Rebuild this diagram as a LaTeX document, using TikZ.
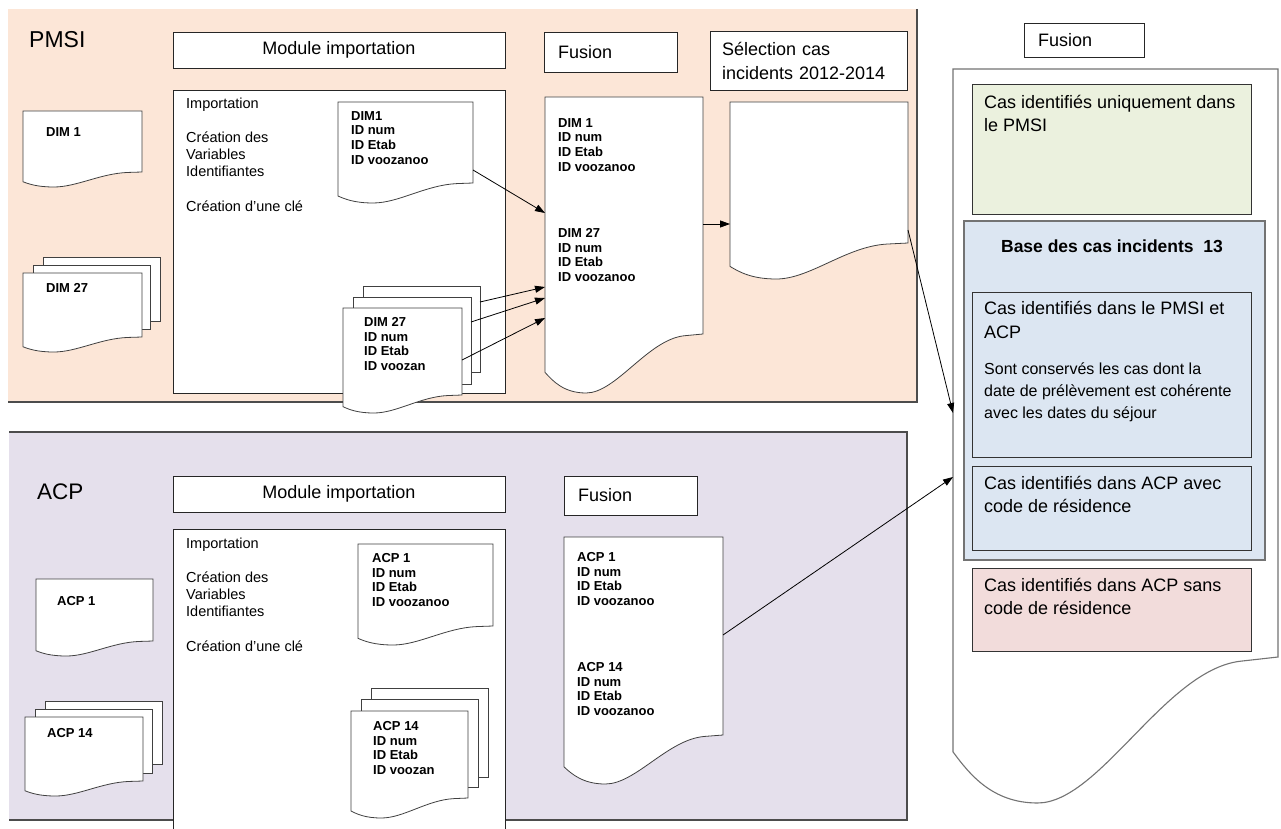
\documentclass[tikz,border=0pt]{standalone}
\usepackage{fontspec}
\setmainfont{Liberation Sans}
\usepackage{tikz}
\usetikzlibrary{positioning,calc,arrows.meta}

\definecolor{pmsibg}{RGB}{252,230,215}
\definecolor{acpbg}{RGB}{229,224,236}
\definecolor{vertcas}{RGB}{235,241,222}
\definecolor{bleucas}{RGB}{220,230,242}
\definecolor{rosecas}{RGB}{242,220,219}

% document a bord ondule : style, nom, gauche, haut, droite, bas, creux
\newcommand{\wavedoc}[7][docline]{%
  \pgfmathsetmacro{\docw}{#5-#3}
  \draw[#1] (#3,#4) -- (#5,#4) -- (#5,#6) -- ({#5-0.12*\docw},{#6+0.03*#7})
    .. controls ({#5-0.35*\docw},{#6+0.1*#7}) and ({#3+0.45*\docw},{#6+#7}) .. ({#3+0.26*\docw},{#6+#7})
    .. controls ({#3+0.12*\docw},{#6+#7}) and ({#3+0.05*\docw},{#6+0.8*#7}) .. (#3,{#6+0.65*#7}) -- cycle;
  \node[docarea, minimum width=\docw pt, minimum height={(#6-#4)*1pt}] (#2) at (#3,#4) {};
}
% feuille derriere un document
\newcommand{\sheetbox}[5]{%
  \node[sheet, minimum width={(#4-#2)*1pt}, minimum height={(#5-#3)*1pt}] (#1) at (#2,#3) {};
}

\begin{document}
\begin{tikzpicture}[x=1pt, y=-1pt, >={Triangle[length=10pt,width=7pt]},
  docline/.style={draw=black!75, fill=white, line width=0.8pt},
  bigline/.style={draw=black!55, fill=white, line width=1.1pt},
  docarea/.style={anchor=north west, inner sep=0pt, outer sep=0pt, draw=none},
  sheet/.style={anchor=north west, inner sep=0pt, outer sep=0pt, draw=black!75, fill=white, line width=0.8pt},
  boite/.style={anchor=north west, inner sep=0pt, outer sep=0pt, draw=black!85, fill=white, line width=0.8pt},
  lib/.style={font=\fontsize{18}{24}\selectfont},
  titre/.style={anchor=north west, inner sep=0pt, font=\fontsize{23}{26}\selectfont},
  doctxt/.style={anchor=north west, inner sep=0pt, align=left, font=\fontsize{13}{14.8}\selectfont\bfseries},
  etape/.style={anchor=north west, inner sep=0pt, align=left, font=\fontsize{14.5}{17}\selectfont},
  casbox/.style={anchor=north west, inner sep=0pt, outer sep=0pt, draw=black!80, line width=0.8pt},
  cas/.style={anchor=north west, inner sep=0pt, align=left, font=\fontsize{18}{23.5}\selectfont},
  cadre/.style={draw=black!70, line width=1.2pt},
  fleche/.style={->, line width=0.8pt}]
\useasboundingbox (0,0) rectangle (1281,829);

% PMSI
\fill[pmsibg] (8,9) rectangle (917,402);
\draw[cadre] (917,9) -- (917,402) -- (8,402);
\node[titre] (pmsi) at (29,31) {PMSI};

\node[boite, lib, minimum width=332pt, minimum height=36pt] (modP) at (173,32) {Module importation};
\node[boite, minimum width=332pt, minimum height=303pt] (impP) at (173,90) {};
\node[etape] (etP) at (186,98) {Importation\\[17pt]Création des\\Variables\\Identifiantes\\[18pt]Création d'une clé};

\wavedoc{dimG1}{23}{111}{142}{172}{15}
\node[doctxt] (tDimG1) at (46,127) {DIM 1};
\sheetbox{dimG27c}{43}{257}{160}{321}
\sheetbox{dimG27b}{33}{265}{150}{329}
\wavedoc{dimG27}{23}{273}{142}{337}{15}
\node[doctxt] (tDimG27) at (46,283) {DIM 27};

\wavedoc{dimI1}{338}{102}{473}{183}{20}
\node[doctxt] (tDimI1) at (351,111) {DIM1\\ID num\\ID Etab\\ID voozanoo};
\sheetbox{dimI27c}{363}{286}{480}{372}
\sheetbox{dimI27b}{353}{297}{471}{384}
\wavedoc{dimI27}{343}{308}{462}{395}{18}
\node[doctxt] (tDimI27) at (364,317) {DIM 27\\ID num\\ID Etab\\ID voozan};

\node[boite, lib, minimum width=133pt, minimum height=40pt, text width=105pt, inner xsep=14pt, align=left] (fusPlab) at (544,32) {Fusion};
\wavedoc{fusP}{545}{97}{703}{334}{59}
\node[doctxt] (tFusP1) at (558,118) {DIM 1\\ID num\\ID Etab\\ID voozanoo};
\node[doctxt] (tFusP27) at (558,228) {DIM 27\\ID num\\ID Etab\\ID voozanoo};

\node[boite, lib, minimum width=197pt, minimum height=59pt, text width=173pt, inner xsep=12pt, align=left] (selPlab) at (710,31) {Sélection cas\\incidents 2012-2014};
\wavedoc{selP}{730}{102}{908}{243}{36}

% ACP
\fill[acpbg] (9,432) rectangle (907,820);
\draw[cadre] (9,432) -- (907,432) -- (907,820) -- (9,820);
\node[titre, font=\fontsize{22.5}{26}\selectfont] (acp) at (37,484) {ACP};

\node[boite, lib, minimum width=332pt, minimum height=36pt] (modA) at (173,476) {Module importation};
\draw[boite] (173,840) -- (173,529) -- (505,529) -- (505,840);
\node[etape] (etA) at (186,538) {Importation\\[17pt]Création des\\Variables\\Identifiantes\\[18pt]Création d'une clé};

\wavedoc{acpG1}{36}{579}{153}{641}{15}
\node[doctxt] (tAcpG1) at (57,596) {ACP 1};
\sheetbox{acpG14c}{45}{701}{162}{764}
\sheetbox{acpG14b}{35}{709}{152}{773}
\wavedoc{acpG14}{25}{717}{143}{781}{15}
\node[doctxt] (tAcpG14) at (47,728) {ACP 14};

\wavedoc{acpI1}{358}{544}{493}{626}{19}
\node[doctxt] (tAcpI1) at (372,553) {ACP 1\\ID num\\ID Etab\\ID voozanoo};
\sheetbox{acpI14c}{371}{688}{488}{777}
\sheetbox{acpI14b}{361}{699}{478}{787}
\wavedoc{acpI14}{351}{711}{468}{798}{20}
\node[doctxt] (tAcpI14) at (373,721) {ACP 14\\ID num\\ID Etab\\ID voozan};

\node[boite, lib, minimum width=133pt, minimum height=39pt, text width=105pt, inner xsep=14pt, align=left] (fusAlab) at (564,476) {Fusion};
\wavedoc{fusA}{564}{537}{723}{735}{49}
\node[doctxt] (tFusA1) at (577,552) {ACP 1\\ID num\\ID Etab\\ID voozanoo};
\node[doctxt] (tFusA14) at (577,662) {ACP 14\\ID num\\ID Etab\\ID voozanoo};

% fusion finale
\node[boite, lib, minimum width=120pt, minimum height=34pt, text width=92pt, inner xsep=14pt, align=left] (fusRlab) at (1024,23) {Fusion};
\wavedoc[bigline]{fusR}{953}{69}{1278}{657}{146}

\node[casbox, fill=vertcas, minimum width=279pt, minimum height=130pt] (vert) at (972,84) {};
\node[cas] (tVert) at (984,95) {Cas identifiés uniquement dans\\le PMSI};

\node[casbox, fill=bleucas, draw=black!55, line width=1.2pt, minimum width=301pt, minimum height=339pt] (bleu) at (964,221) {};
\node[font=\fontsize{17.5}{20}\selectfont\bfseries] (tBleu) at (1112,246) {Base des cas incidents~~13};

\node[casbox, fill=bleucas, minimum width=279pt, minimum height=165pt] (in1) at (972,292) {};
\node[cas] (tIn1) at (984,301) {Cas identifiés dans le PMSI et\\[0.5pt]ACP};
\node[cas, font=\fontsize{16}{22}\selectfont] (tIn1b) at (984,363) {Sont conservés les cas dont la\\date de prélèvement est cohérente\\avec les dates du séjour};

\node[casbox, fill=bleucas, minimum width=279pt, minimum height=84pt] (in2) at (972,466) {};
\node[cas] (tIn2) at (984,476) {Cas identifiés dans ACP avec\\code de résidence};

\node[casbox, fill=rosecas, minimum width=279pt, minimum height=83pt] (rose) at (972,568) {};
\node[cas] (tRose) at (984,578) {Cas identifiés dans ACP sans\\code de résidence};

% fleches
\draw[fleche] ([yshift=-68pt]dimI1.north east) -- ([yshift=-116pt]fusP.north west);
\draw[fleche] ([yshift=-16pt]dimI27c.north east) -- ([yshift=-190pt]fusP.north west);
\draw[fleche] ([yshift=-25pt]dimI27b.north east) -- ([yshift=-201pt]fusP.north west);
\draw[fleche] ([yshift=-52pt]dimI27.north east) -- ([yshift=-221pt]fusP.north west);
\draw[fleche] ([yshift=-127pt]fusP.north east) -- ([yshift=-122pt]selP.north west);
\draw[fleche] ([yshift=-128pt]selP.north east) -- ([yshift=-344pt]fusR.north west);
\draw[fleche] ([yshift=-98pt]fusA.north east) -- ([yshift=-408pt]fusR.north west);
\end{tikzpicture}
\end{document}
